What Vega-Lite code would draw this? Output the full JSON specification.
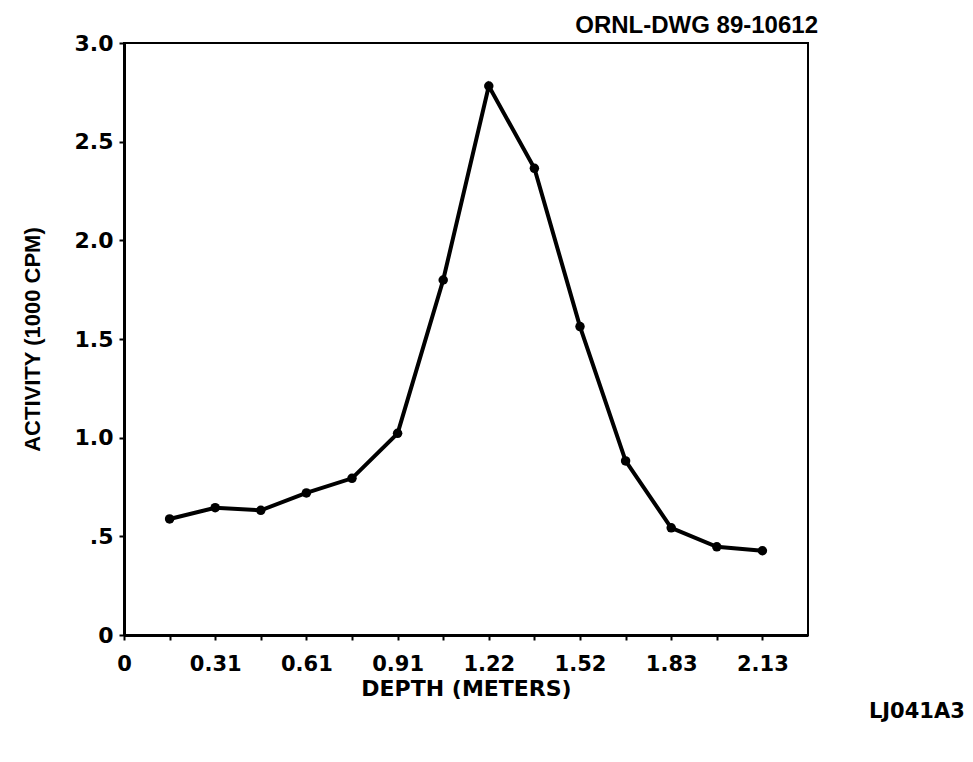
{
  "$schema": "https://vega.github.io/schema/vega-lite/v6.json",
  "width": 684,
  "height": 592,
  "autosize": {"type": "none"},
  "padding": {"left": 124, "top": 43, "right": 165, "bottom": 127},
  "background": "white",
  "title": {
    "text": "ORNL-DWG 89-10612",
    "anchor": "end",
    "frame": "group",
    "font": "Liberation Sans",
    "fontSize": 24,
    "fontWeight": "bold",
    "color": "black",
    "offset": -6,
    "dx": 10
  },
  "config": {
    "view": {"stroke": "black", "strokeWidth": 2},
    "axis": {
      "domainColor": "black",
      "domainWidth": 3,
      "tickColor": "black",
      "tickWidth": 2,
      "tickSize": 5,
      "grid": false,
      "labelColor": "black",
      "titleColor": "black",
      "labelFont": "DejaVu Sans",
      "labelFontWeight": "bold",
      "titleFont": "DejaVu Sans",
      "titleFontWeight": "bold"
    }
  },
  "data": {
    "values": [
      {"depth": 0.1524, "activity": 0.588},
      {"depth": 0.3048, "activity": 0.645},
      {"depth": 0.4572, "activity": 0.632},
      {"depth": 0.6096, "activity": 0.720},
      {"depth": 0.7620, "activity": 0.794},
      {"depth": 0.9144, "activity": 1.022},
      {"depth": 1.0668, "activity": 1.799},
      {"depth": 1.2192, "activity": 2.782},
      {"depth": 1.3716, "activity": 2.365},
      {"depth": 1.5240, "activity": 1.563},
      {"depth": 1.6764, "activity": 0.882},
      {"depth": 1.8288, "activity": 0.543},
      {"depth": 1.9812, "activity": 0.447},
      {"depth": 2.1336, "activity": 0.427}
    ]
  },
  "layer": [
    {
      "mark": {"type": "line", "color": "black", "strokeWidth": 4, "point": {"filled": true, "color": "black", "size": 90}},
      "encoding": {
        "x": {
          "field": "depth",
          "type": "quantitative",
          "scale": {"domain": [0, 2.286], "nice": false, "zero": false},
          "axis": {
            "title": "DEPTH (METERS)",
            "titleFontSize": 22,
            "titlePadding": 4,
            "labelFontSize": 21,
            "labelPadding": 13,
            "labelFlush": false,
            "labelOverlap": false,
            "values": [0, 0.1524, 0.3048, 0.4572, 0.6096, 0.762, 0.9144, 1.0668, 1.2192, 1.3716, 1.524, 1.6764, 1.8288, 1.9812, 2.1336],
            "labelExpr": "datum.value == 0 ? '0' : abs(datum.value/0.3048 - round(datum.value/0.3048)) > 0.1 ? '' : (round(datum.value/0.3048) == 1 ? '0.31' : format(datum.value, '.2f'))"
          }
        },
        "y": {
          "field": "activity",
          "type": "quantitative",
          "scale": {"domain": [0, 3], "nice": false},
          "axis": {
            "title": "ACTIVITY (1000 CPM)",
            "titleFont": "Liberation Sans",
            "titleFontSize": 22,
            "titlePadding": 30,
            "labelFontSize": 22,
            "labelPadding": 6,
            "values": [0, 0.5, 1, 1.5, 2, 2.5, 3],
            "labelExpr": "datum.value == 0 ? '0' : datum.value == 0.5 ? '.5' : format(datum.value, '.1f')"
          }
        }
      }
    },
    {
      "data": {"values": [{"label": "LJ041A3", "depth": 2.81, "activity": -0.39}]},
      "mark": {"type": "text", "align": "right", "baseline": "middle", "font": "DejaVu Sans", "fontWeight": "bold", "fontSize": 21, "color": "black", "clip": false},
      "encoding": {
        "x": {"field": "depth", "type": "quantitative"},
        "y": {"field": "activity", "type": "quantitative"},
        "text": {"field": "label"}
      }
    }
  ]
}
